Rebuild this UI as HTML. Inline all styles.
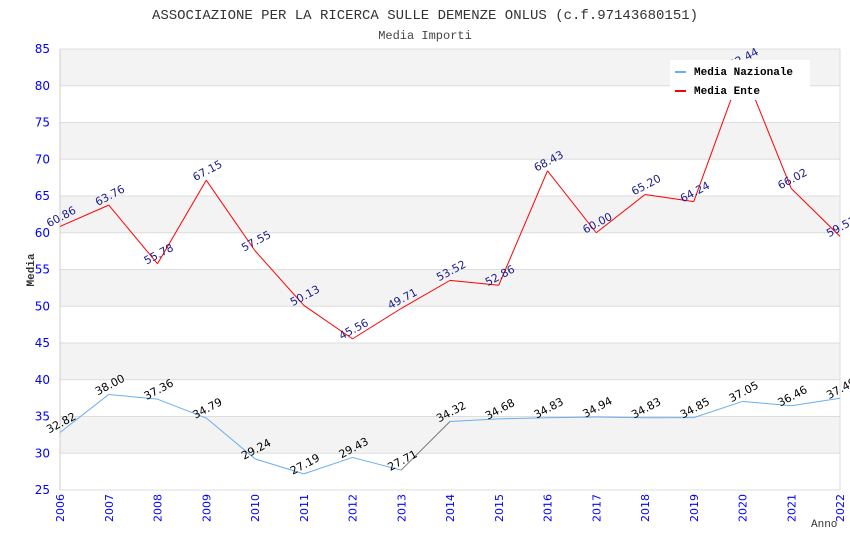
<!DOCTYPE html>
<html><head><meta charset="utf-8"><style>
body{margin:0;background:#fff;width:850px;height:550px;overflow:hidden}
svg{display:block}
</style></head><body>
<svg id="chart" width="850" height="550" xmlns="http://www.w3.org/2000/svg">
<text x="425" y="19" text-anchor="middle" font-family="Liberation Mono, monospace" font-size="14" fill="#333">ASSOCIAZIONE PER LA RICERCA SULLE DEMENZE ONLUS (c.f.97143680151)</text>
<text x="425" y="39" text-anchor="middle" font-family="Liberation Mono, monospace" font-size="12" fill="#444">Media Importi</text>
<text transform="translate(34,270) rotate(-90)" text-anchor="middle" font-family="Liberation Mono, monospace" font-size="11" font-weight="bold" fill="#333">Media</text>
<text x="811" y="527" font-family="Liberation Mono, monospace" font-size="11" fill="#333">Anno</text>
<g id="grid"></g><g id="series"></g><g id="labels"></g>
<g>
<rect x="670" y="60" width="140" height="40" fill="#fff"/>
<rect x="675" y="71" width="11" height="2" fill="#6aaef0"/>
<text x="694" y="75" font-family="Liberation Mono, monospace" font-size="11" font-weight="bold" fill="#000">Media Nazionale</text>
<rect x="675" y="90" width="11" height="2" fill="#f00"/>
<text x="694" y="94" font-family="Liberation Mono, monospace" font-size="11" font-weight="bold" fill="#000">Media Ente</text>
</g>
</svg>
<script>
const years=[2006,2007,2008,2009,2010,2011,2012,2013,2014,2015,2016,2017,2018,2019,2020,2021,2022];
const ente=[60.86,63.76,55.78,67.15,57.55,50.13,45.56,49.71,53.52,52.86,68.43,60.00,65.20,64.24,82.44,66.02,59.51];
const nazionale=[32.82,38.00,37.36,34.79,29.24,27.19,29.43,27.71,34.32,34.68,34.83,34.94,34.83,34.85,37.05,36.46,37.49];
const yTicks=[25,30,35,40,45,50,55,60,65,70,75,80,85];
const NS="http://www.w3.org/2000/svg";
const X0=60,X1=840,Y0=490,Y1=49,YMIN=25,YMAX=85;
function xs(i){return X0+i*(X1-X0)/(years.length-1);}
function ys(v){return Y0-(v-YMIN)*(Y0-Y1)/(YMAX-YMIN);}
function mk(tag,attrs,parent){const e=document.createElementNS(NS,tag);for(const k in attrs)e.setAttribute(k,attrs[k]);parent.appendChild(e);return e;}
const grid=document.getElementById('grid'),ser=document.getElementById('series'),lab=document.getElementById('labels');
for(let i=0;i<yTicks.length-1;i++){
  const lo=yTicks[i],hi=yTicks[i+1];
  const r=mk('rect',{x:X0,y:ys(hi),width:X1-X0,height:ys(lo)-ys(hi),fill:(lo%10===0)?'#f3f3f3':'#fff'},grid);
  
  
}
yTicks.forEach(t=>{
  const l=mk('line',{x1:X0,x2:X1,y1:ys(t),y2:ys(t),stroke:'#ddd','stroke-width':1},grid);
  
  
  const tx=mk('text',{x:X0-10,y:ys(t)+4,'text-anchor':'end','font-family':'DejaVu Sans, sans-serif','font-size':12,fill:'#00f'},grid);
  tx.textContent=t;
  
  
});
mk('line',{x1:X0,x2:X0,y1:Y1,y2:Y0,stroke:'#ccc'},grid);
mk('line',{x1:X1,x2:X1,y1:Y1,y2:Y0,stroke:'#ddd'},grid);
years.forEach((yr,i)=>{
  const t=mk('text',{transform:`translate(${xs(i)+4},${Y0+4}) rotate(-90)`,'text-anchor':'end','font-family':'DejaVu Sans, sans-serif','font-size':11,fill:'#00f'},grid);
  t.textContent=yr;
  
  
});
function drawSeries(vals,color,labColor,name){
  for(let i=0;i<vals.length-1;i++){
    const c=(name==='nazionale'&&i===7)?'#777':color;
    const l=mk('line',{x1:xs(i),y1:ys(vals[i]),x2:xs(i+1),y2:ys(vals[i+1]),stroke:c,'stroke-width':1},ser);
    
    
  }
  vals.forEach((v,i)=>{
    const t=mk('text',{transform:`translate(${xs(i)-11},${ys(v)+1}) rotate(-28)`,'font-family':'DejaVu Sans, sans-serif','font-size':11,fill:labColor},lab);
    t.textContent=v.toFixed(2);
    
    
  });
}
drawSeries(nazionale,'#6aaef0','#000','nazionale');
drawSeries(ente,'#f00','#1a1a8c','ente');
</script>
</body></html>
